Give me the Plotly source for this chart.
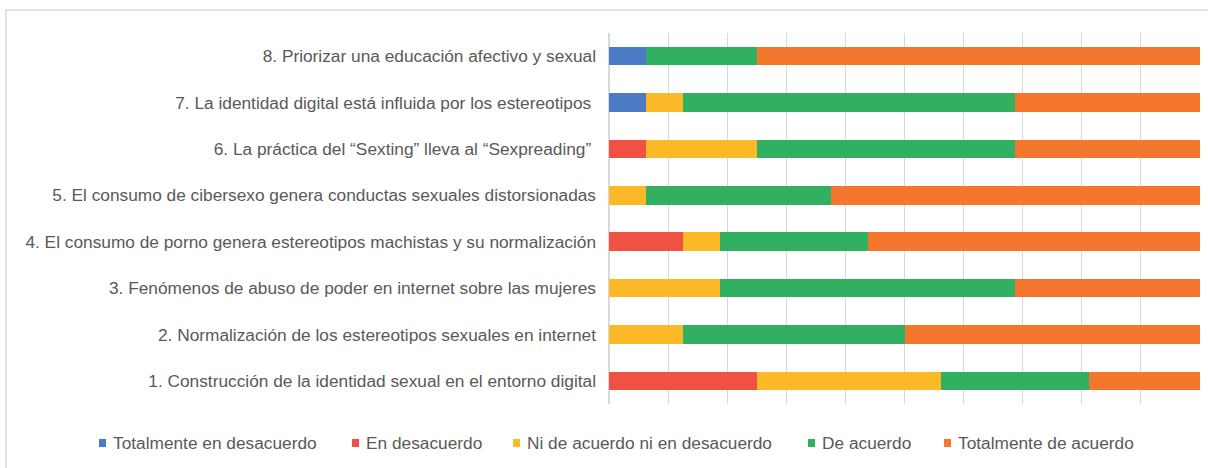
import plotly.graph_objects as go

categories = [
    "1. Construcción de la identidad sexual en el entorno digital",
    "2. Normalización de los estereotipos sexuales en internet",
    "3. Fenómenos de abuso de poder en internet sobre las mujeres",
    "4. El consumo de porno genera estereotipos machistas y su normalización",
    "5. El consumo de cibersexo genera conductas sexuales distorsionadas",
    "6. La práctica del “Sexting” lleva al “Sexpreading”\u00a0",
    "7. La identidad digital está influida por los estereotipos\u00a0",
    "8. Priorizar una educación afectivo y sexual",
]

series_names = [
    "Totalmente en desacuerdo",
    "En desacuerdo",
    "Ni de acuerdo ni en desacuerdo",
    "De acuerdo",
    "Totalmente de acuerdo",
]

totalmente_desacuerdo = [0, 0, 0, 0, 0, 0, 6.25, 6.25]
en_desacuerdo = [25, 0, 0, 12.5, 0, 6.25, 0, 0]
ni_ni = [31.25, 12.5, 18.75, 6.25, 6.25, 18.75, 6.25, 0]
de_acuerdo = [25, 37.5, 50, 25, 31.25, 43.75, 56.25, 18.75]
totalmente_acuerdo = [18.75, 50, 31.25, 56.25, 62.5, 31.25, 31.25, 75]

values = [totalmente_desacuerdo, en_desacuerdo, ni_ni, de_acuerdo, totalmente_acuerdo]
colors = ["#4A7BC4", "#EF5142", "#FBB827", "#30B060", "#F5762D"]

FONT = "Arial, Liberation Sans, sans-serif"
TXT = "#595959"
FS = 17.3

W, H = 1208, 468
L, R, T, B = 609, 8, 33, 64
PW, PH = W - L - R, H - T - B


def px(x):
    return (x - L) / PW


def py(y):
    return (H - B - y) / PH


fig = go.Figure()
for name, vals, col in zip(series_names, values, colors):
    fig.add_trace(go.Bar(
        y=categories, x=vals, name=name, orientation="h",
        marker=dict(color=col, line=dict(width=0)),
        showlegend=False,
    ))

# custom legend (layout positions in pixels)
legend_text_x = [114, 367, 528, 823, 959]
legend_y = 443
shapes = [dict(
    type="rect", xref="paper", yref="paper",
    x0=px(6), x1=px(1214), y0=py(474), y1=py(10),
    line=dict(color="#D9D9D9", width=1.5), fillcolor="rgba(0,0,0,0)",
    layer="below",
)]
annotations = []
for name, col, tx in zip(series_names, colors, legend_text_x):
    shapes.append(dict(
        type="rect", xref="paper", yref="paper",
        x0=px(tx - 15), x1=px(tx - 8), y0=py(legend_y + 4), y1=py(legend_y - 4),
        line=dict(width=0), fillcolor=col,
    ))
    annotations.append(dict(
        text=name, xref="paper", yref="paper", x=px(tx - 3), y=py(legend_y),
        xanchor="left", yanchor="middle", showarrow=False,
        font=dict(family=FONT, size=FS, color=TXT),
    ))

fig.update_layout(
    width=W, height=H,
    margin=dict(l=L, r=R, t=T, b=B, autoexpand=False),
    barmode="stack", bargap=0.6,
    showlegend=False,
    paper_bgcolor="white", plot_bgcolor="white",
    font=dict(family=FONT, size=FS, color=TXT),
    xaxis=dict(
        range=[0, 100], dtick=10, showgrid=True, gridcolor="#D9D9D9",
        gridwidth=1, zeroline=True, zerolinecolor="#D9D9D9",
        showticklabels=False, fixedrange=True,
    ),
    yaxis=dict(
        categoryorder="array", categoryarray=categories,
        showgrid=False, ticks="", ticklabelstandoff=12,
        tickfont=dict(family=FONT, size=FS, color=TXT),
    ),
    shapes=shapes,
    annotations=annotations,
)

fig.write_html(
    "out.html",
    config={"displayModeBar": False},
    post_script="document.body.style.margin='0';document.body.style.padding='0';",
)
